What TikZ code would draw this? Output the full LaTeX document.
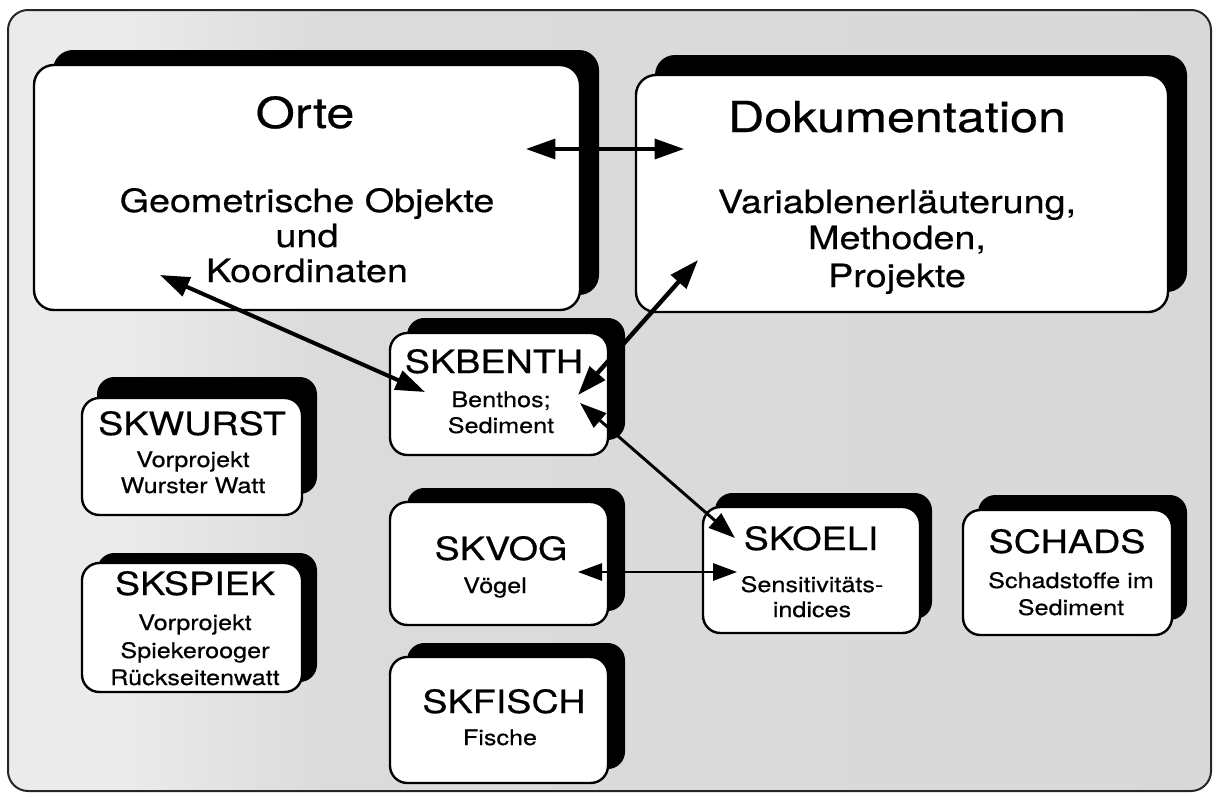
\documentclass[tikz,border=0pt]{standalone}
\usepackage{fontspec}
\setmainfont{TeX Gyre Heros}[FakeStretch=1.18, FakeBold=0.5]
\usetikzlibrary{arrows.meta,shadows}

% dotted grey panel: lighter on the left, denser to the right
\pgfdeclarehorizontalshading{panelshade}{100bp}{color(0bp)=(black!6); color(30bp)=(black!8); color(38bp)=(black!14); color(100bp)=(black!16)}

\begin{document}
\begin{tikzpicture}[x=0.75pt,y=-0.75pt,
  panel/.style={draw=black!85, line width=1.5pt, rounded corners=15pt, shading=panelshade},
  card/.style={draw=black, line width=1.8pt, fill=white, inner sep=0pt, outer sep=0pt},
  bigcard/.style={card, rounded corners=15pt},
  smallcard/.style={card, rounded corners=13pt},
  backdrop/.style 2 args={drop shadow={shadow xshift=#1, shadow yshift=#2, fill=black, opacity=1}},
  lab/.style={anchor=base, inner sep=0pt, outer sep=0pt},
  ttl/.style={lab, font=\fontsize{32}{36}\selectfont},
  sub/.style={lab, font=\fontsize{24}{26}\selectfont},
  hd/.style={lab, font=\fontsize{24}{26}\selectfont},
  sm/.style={lab, font=\fontsize{16}{19}\selectfont},
  heavy/.style={line width=3pt, {Triangle[length=22pt,width=15pt]}-{Triangle[length=22pt,width=15pt]}},
  medium/.style={line width=2.2pt, {Triangle[length=20pt,width=14pt]}-{Triangle[length=20pt,width=14pt]}},
  light/.style={line width=1.3pt, {Triangle[length=18pt,width=13pt]}-{Triangle[length=18pt,width=13pt]}}
]
\useasboundingbox (0,0) rectangle (1216,796);

% outer panel
\path[panel] (8,10) rectangle (1211,791);

% boxes
\node[bigcard, backdrop={14.25pt}{11.25pt}, minimum width=409.5pt, minimum height=183.75pt] (orte) at (307,187.5) {};
\node[bigcard, backdrop={14.25pt}{15pt}, minimum width=399pt, minimum height=177.75pt] (doku) at (902,193.5) {};
\node[smallcard, backdrop={12.75pt}{11.25pt}, minimum width=163.5pt, minimum height=91.5pt] (benth) at (499,394) {};
\node[smallcard, backdrop={11.25pt}{15.75pt}, minimum width=165pt, minimum height=87.75pt] (wurst) at (192,456.5) {};
\node[smallcard, backdrop={11.25pt}{7.5pt}, minimum width=165pt, minimum height=96.75pt] (spiek) at (192,627.5) {};
\node[smallcard, backdrop={12.75pt}{10.5pt}, minimum width=163.5pt, minimum height=92.25pt] (vog) at (499,563.5) {};
\node[smallcard, backdrop={12.75pt}{10.5pt}, minimum width=163.5pt, minimum height=94.5pt] (fisch) at (499,720) {};
\node[smallcard, backdrop={9pt}{10.5pt}, minimum width=162.75pt, minimum height=94.5pt] (oeli) at (811.5,570) {};
\node[smallcard, backdrop={11.25pt}{11.25pt}, minimum width=156.75pt, minimum height=93.75pt] (schads) at (1067.5,572.5) {};

% texts
\node[ttl] (orte-t) at (305,128) {Orte};
\node[sub] (orte-s1) at (307,212) {Geometrische Objekte};
\node[sub] (orte-s2) at (307,247) {und};
\node[sub] (orte-s3) at (307,282) {Koordinaten};

\node[ttl] (doku-t) at (897,132) {Dokumentation};
\node[sub] (doku-s1) at (897,213) {Variablenerläuterung,};
\node[sub] (doku-s2) at (897,249) {Methoden,};
\node[sub] (doku-s3) at (897,287) {Projekte};

\node[hd] (benth-t) at (494,373) {SKBENTH};
\node[sm] (benth-s1) at (501,407) {Benthos;};
\node[sm] (benth-s2) at (501,433) {Sediment};

\node[hd] (wurst-t) at (192,435) {SKWURST};
\node[sm] (wurst-s1) at (193,467) {Vorprojekt};
\node[sm] (wurst-s2) at (193,493) {Wurster Watt};

\node[hd] (spiek-t) at (195,595) {SKSPIEK};
\node[sm] (spiek-s1) at (195,630) {Vorprojekt};
\node[sm] (spiek-s2) at (195,658) {Spiekerooger};
\node[sm] (spiek-s3) at (195,685) {Rückseitenwatt};

\node[hd] (vog-t) at (501,560) {SKVOG};
\node[sm] (vog-s1) at (495,593) {Vögel};

\node[hd] (fisch-t) at (504,713) {SKFISCH};
\node[sm] (fisch-s1) at (500,745) {Fische};

\node[hd] (oeli-t) at (811,550) {SKOELI};
\node[sm] (oeli-s1) at (812,592) {Sensitivitäts-};
\node[sm] (oeli-s2) at (812,617) {indices};

\node[hd] (schads-t) at (1067,553) {SCHADS};
\node[sm] (schads-s1) at (1071,588) {Schadstoffe im};
\node[sm] (schads-s2) at (1071,615) {Sediment};

% connector end points inside the boxes
\coordinate (orte-e) at (526,149);
\coordinate (doku-w) at (684,149);
\coordinate (orte-s) at (160,275);
\coordinate (benth-w) at (425,392);
\coordinate (doku-s) at (698,260);
\coordinate (benth-ne) at (578,395);
\coordinate (benth-se) at (580,403);
\coordinate (oeli-nw) at (735,538);
\coordinate (vog-e) at (578,572);
\coordinate (oeli-w) at (737,572);

% connectors
\draw[heavy, line width=2.5pt] (orte-e) -- (doku-w);
\draw[heavy] (orte-s) -- (benth-w);
\draw[heavy, line width=3.3pt] (doku-s) -- (benth-ne);
\draw[medium] (benth-se) -- (oeli-nw);
\draw[light] (vog-e) -- (oeli-w);
\end{tikzpicture}
\end{document}
